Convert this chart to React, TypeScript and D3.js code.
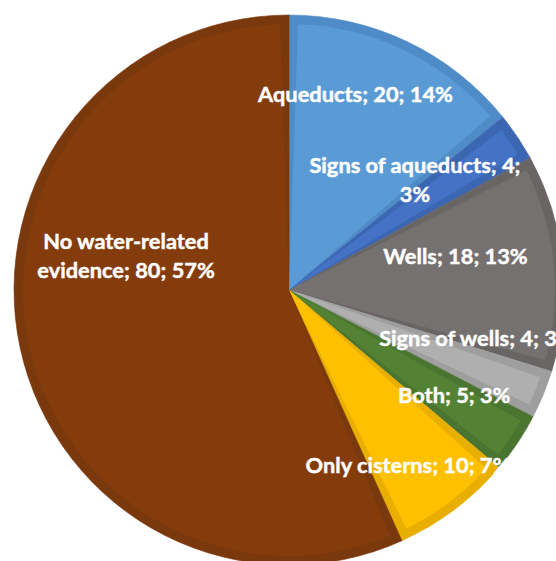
import React, { useEffect, useRef } from "react";
import * as d3 from "d3";

// Site survey: what water-supply evidence was recorded at each site
const categories = [
  "Aqueducts",
  "Signs of aqueducts",
  "Wells",
  "Signs of wells",
  "Both",
  "Only cisterns",
  "No water-related evidence",
];
const counts = [20, 4, 18, 4, 5, 10, 80];
const percentLabels = ["14%", "3%", "13%", "3%", "3%", "7%", "57%"];

// Slice colours: main fill and the darker bevel band along each slice edge
const fillColors = ["#5B9BD5", "#4472C4", "#767171", "#AFAFAF", "#548235", "#FFC000", "#843C0C"];
const edgeColors = ["#4F8BC6", "#3B66B2", "#6A6565", "#9E9E9E", "#4A7530", "#E9AF00", "#7A380D"];

// Where a label wraps onto a second line (text after which to break)
const labelBreaks = ["", "4;", "", "", "", "", "water-related"];

// Label placement: angular shift from the slice mid-angle (degrees) and radius fraction
const labelShift = [-6.8, -7.3, -5.8, -8.1, -1.4, 2.8, 24.2];
const labelRadius = [0.753, 0.608, 0.618, 0.705, 0.712, 0.769, 0.606];

const W = 556;
const H = 561;
const CX = 289;
const CY = 290;
const R = 275;
const BAND = 9;
const FONT_SIZE = 21.8;
const LINE_H = 29;

export default function App() {
  const ref = useRef<SVGSVGElement | null>(null);

  useEffect(() => {
    const svg = d3.select(ref.current);
    svg.selectAll("*").remove();

    const pie = d3
      .pie<number>()
      .sort(null)
      .value((d) => d)
      .startAngle(0)
      .endAngle(2 * Math.PI);
    const arcs = pie(counts);

    const outer = d3.arc<d3.PieArcDatum<number>>().innerRadius(0).outerRadius(R);
    const inner = d3
      .arc<d3.PieArcDatum<number>>()
      .innerRadius(0)
      .outerRadius(R - BAND)
      .padAngle((2 * BAND) / R)
      .padRadius(R);

    const g = svg.append("g").attr("transform", `translate(${CX},${CY})`);

    g.selectAll("path.edge")
      .data(arcs)
      .join("path")
      .attr("class", "edge")
      .attr("d", (d) => outer(d) as string)
      .attr("fill", (_, i) => edgeColors[i])
      .attr("stroke", (_, i) => edgeColors[i])
      .attr("stroke-width", 0.6);

    g.selectAll("path.face")
      .data(arcs)
      .join("path")
      .attr("class", "face")
      .attr("d", (d) => inner({ ...d, padAngle: (2 * BAND) / R }) as string)
      .attr("fill", (_, i) => fillColors[i]);

    const capH = FONT_SIZE * 0.72;

    arcs.forEach((d, i) => {
      const full = `${categories[i]}; ${counts[i]}; ${percentLabels[i]}`;
      let lines = [full];
      const br = labelBreaks[i];
      if (br) {
        const k = full.indexOf(br) + br.length;
        lines = [full.slice(0, k).trim(), full.slice(k).trim()];
      }
      const mid = (d.startAngle + d.endAngle) / 2 + (labelShift[i] * Math.PI) / 180;
      const [lx, ly] = d3.pointRadial(mid, labelRadius[i] * R);
      const firstBase = ly - ((lines.length - 1) * LINE_H) / 2 + capH / 2;
      const t = g
        .append("text")
        .attr("text-anchor", "middle")
        .attr("fill", "#FFFFFF")
        .attr("stroke", "#FFFFFF")
        .attr("stroke-width", 0.45)
        .attr("font-family", "Lato, 'Open Sans', sans-serif")
        .attr("font-weight", 700)
        .attr("font-size", FONT_SIZE);
      lines.forEach((ln, j) => {
        t.append("tspan")
          .attr("x", lx)
          .attr("y", firstBase + j * LINE_H)
          .text(ln);
      });
    });
  }, []);

  return (
    <svg
      ref={ref}
      width={W}
      height={H}
      style={{ position: "absolute", left: 0, top: 0, display: "block", background: "#FFFFFF" }}
    />
  );
}
